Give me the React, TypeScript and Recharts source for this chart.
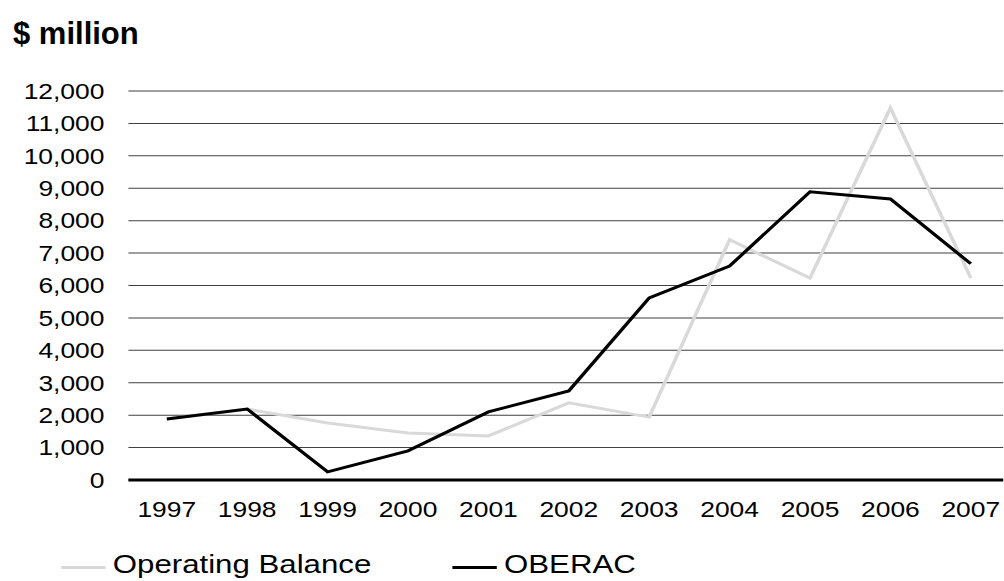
import { LineChart, Line, XAxis, YAxis, CartesianGrid } from "recharts";

const YEARS = ["1997", "1998", "1999", "2000", "2001", "2002", "2003", "2004", "2005", "2006", "2007"];
const OPERATING_BALANCE = [1880, 2190, 1760, 1450, 1360, 2380, 1940, 7410, 6230, 11480, 6230];
const OBERAC = [1880, 2190, 250, 900, 2100, 2750, 5620, 6600, 8890, 8670, 6670];
const Y_TICKS = [0, 1000, 2000, 3000, 4000, 5000, 6000, 7000, 8000, 9000, 10000, 11000, 12000];

const data = YEARS.map((year, i) => ({
  year,
  operating: OPERATING_BALANCE[i],
  oberac: OBERAC[i],
}));

const FONT = "'Liberation Sans', Arial, sans-serif";
const STRETCH = 1.2; // reference text is drawn slightly stretched sideways
const W = 837;
const H = 581;

const fmt = (v: number) => v.toLocaleString("en-US");

// ─── Legend ───────────────────────────────────────────────────────────────────
const LegendItem = ({ left, color, label }: { left: number; color: string; label: string }) => (
  <div style={{ position: "absolute", left, top: 549, display: "flex", alignItems: "center", fontSize: 26, lineHeight: "30px" }}>
    <span style={{ display: "inline-block", width: 37, height: 3, background: color, marginRight: 6, position: "relative", top: 3 }} />
    {label}
  </div>
);

export default function App() {
  return (
    <div style={{ position: "absolute", left: 0, top: 0, width: 1004, height: H, background: "#fff", fontFamily: FONT, color: "#000", overflow: "hidden" }}>
      <div style={{ position: "absolute", left: 13, top: 18, fontSize: 31, fontWeight: 700, lineHeight: "31px" }}>
        $ million
      </div>
      <div style={{ position: "absolute", left: 0, top: 0, width: W, height: H, transform: `scaleX(${STRETCH})`, transformOrigin: "0 0" }}>
        <LineChart width={W} height={H} data={data} margin={{ top: 91, right: 1, left: 0, bottom: 61 }}>
          <CartesianGrid vertical={false} stroke="#404040" strokeWidth={1} />
          <XAxis
            dataKey="year"
            height={40}
            padding={{ left: 32, right: 27 }}
            tickLine={false}
            tickSize={0}
            tickMargin={21}
            axisLine={{ stroke: "#000", strokeWidth: 3 }}
            tick={{ fill: "#000", fontSize: 22, fontFamily: FONT }}
            interval={0}
          />
          <YAxis
            width={107}
            domain={[0, 12000]}
            ticks={Y_TICKS}
            interval={0}
            tickFormatter={fmt}
            axisLine={false}
            tickLine={false}
            tickSize={0}
            tickMargin={20}
            tick={{ fill: "#000", fontSize: 22, fontFamily: FONT }}
          />
          <Line
            dataKey="operating"
            name="Operating Balance"
            stroke="#d9d9d9"
            strokeWidth={3}
            dot={false}
            isAnimationActive={false}
          />
          <Line
            dataKey="oberac"
            name="OBERAC"
            stroke="#000"
            strokeWidth={3}
            dot={false}
            isAnimationActive={false}
          />
        </LineChart>
        <LegendItem left={51} color="#d9d9d9" label="Operating Balance" />
        <LegendItem left={377} color="#000" label="OBERAC" />
      </div>
    </div>
  );
}
